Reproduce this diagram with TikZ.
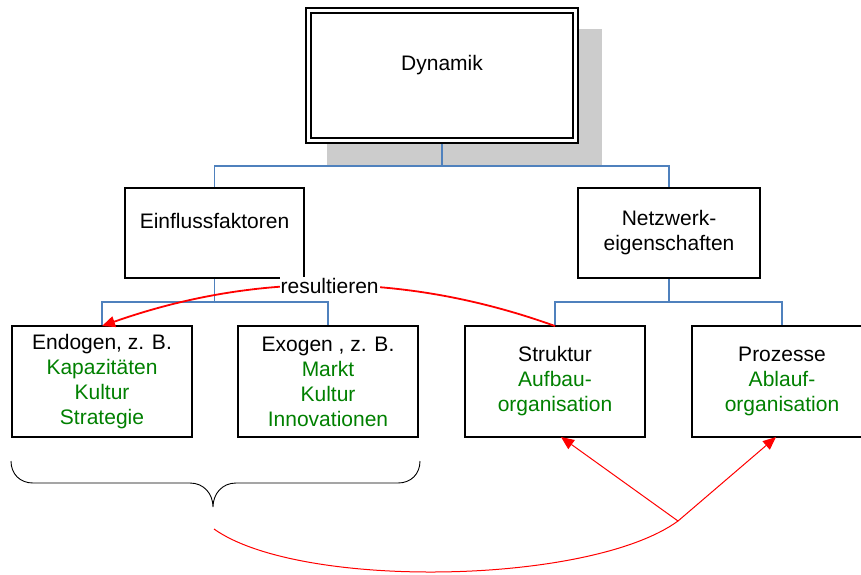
\documentclass[tikz,border=0pt]{standalone}
\usepackage{fontspec}
\setmainfont{Liberation Sans}
\usetikzlibrary{arrows.meta,calc,backgrounds}
\definecolor{tgreen}{RGB}{0,128,0}
\definecolor{lblue}{RGB}{79,129,189}
\definecolor{shadowgray}{RGB}{204,204,204}
\begin{document}
\begin{tikzpicture}[x=1pt,y=-1pt,
  box/.style={draw=black, line width=1.8pt, fill=white, inner sep=0pt, outer sep=0pt, align=center, font=\fontsize{21}{25}\selectfont},
  conn/.style={draw=lblue, line width=1.4pt},
  redbold/.style={draw=red, line width=1.8pt, -{Triangle[length=13pt,width=11pt]}},
  redthin/.style={draw=red, line width=1pt},
  redarrow/.style={redthin, -{Triangle[length=13pt,width=11pt]}},
  lbl/.style={fill=white, inner sep=1pt, font=\fontsize{21}{25}\selectfont},
  bracestyle/.style={draw=black, line width=0.9pt}]
\useasboundingbox (0,0) rectangle (861,574);
% nodes
\node[box, line width=2pt, double, double distance=3pt, minimum width=267pt, minimum height=130pt] (dyn) at (442,75.5) {Dynamik\\~};
\node[box, minimum width=179pt, minimum height=90pt] (einf) at (214.5,233) {Einflussfaktoren\\~};
\node[box, minimum width=182pt, minimum height=90pt] (netz) at (669,233) {Netzwerk-\\eigenschaften};
\node[box, minimum width=180pt, minimum height=111pt] (endo) at (102,381.5) {Endogen, z. B.\\\textcolor{tgreen}{Kapazitäten}\\\textcolor{tgreen}{Kultur}\\\textcolor{tgreen}{Strategie}};
\node[box, minimum width=180pt, minimum height=111pt] (exo) at (328,381.5) {Exogen , z. B.\\\textcolor{tgreen}{Markt}\\\textcolor{tgreen}{Kultur}\\\textcolor{tgreen}{Innovationen}};
\node[box, minimum width=180pt, minimum height=111pt] (strk) at (555,381.5) {Struktur\\\textcolor{tgreen}{Aufbau-}\\\textcolor{tgreen}{organisation}};
\node[box, minimum width=180pt, minimum height=111pt] (proz) at (782,381.5) {Prozesse\\\textcolor{tgreen}{Ablauf-}\\\textcolor{tgreen}{organisation}};
% helper coordinates
\coordinate (l1) at (0,166);
\coordinate (l2) at (0,302);
\coordinate (j1) at (dyn.south |- l1);
\coordinate (j2) at (einf.south |- l2);
\coordinate (j3) at (netz.south |- l2);
\begin{scope}[on background layer]
  \fill[shadowgray] (327,29) rectangle (602,166);
  \draw[conn] (dyn.south) -- (j1);
  \draw[conn] (einf.north) |- (j1) -| (netz.north);
  \draw[conn] (einf.south) -- (j2);
  \draw[conn] (endo.north) |- (j2) -| (exo.north);
  \draw[conn] (netz.south) -- (j3);
  \draw[conn] (strk.north) |- (j3) -| (proz.north);
\end{scope}
% red connectors
\draw[redbold] (strk.north) .. controls (405,272) and (255,272) .. (endo.north) node[lbl, pos=0.5] {resultieren};
\coordinate (bstart) at (214,529);
\coordinate (hub) at (678,521);
\draw[redthin] (bstart) .. controls (300,590) and (590,585) .. (hub);
\draw[redarrow] (hub) -- ([xshift=6pt]strk.south);
\draw[redarrow] (hub) -- ([xshift=-6pt]proz.south);
% brace
\draw[bracestyle] (11,461) .. controls (11,474) and (20,483) .. (33,483) -- (190,483)
  .. controls (204,483) and (213,494) .. (213,507)
  .. controls (213,494) and (222,483) .. (236,483) -- (398,483)
  .. controls (411,483) and (420,474) .. (420,461);
\end{tikzpicture}
\end{document}
